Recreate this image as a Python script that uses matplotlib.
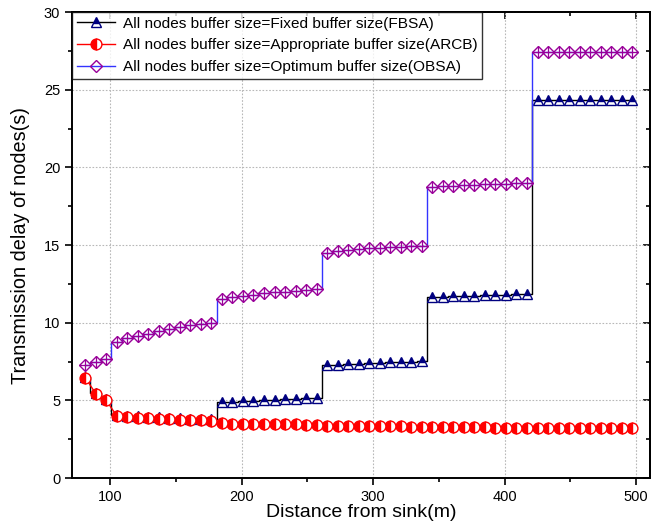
import matplotlib
matplotlib.use("Agg")
import matplotlib.pyplot as plt
from matplotlib.ticker import MultipleLocator

plt.rcParams['font.family'] = ['Liberation Sans', 'DejaVu Sans']

# Distance of each sampled node from the sink (m)
distance = [81, 89, 97,
            105, 113, 121, 129, 137, 145, 153, 161, 169, 177,
            185, 193, 201, 209, 217, 225, 233, 241, 249, 257,
            265, 273, 281, 289, 297, 305, 313, 321, 329, 337,
            345, 353, 361, 369, 377, 385, 393, 401, 409, 417,
            425, 433, 441, 449, 457, 465, 473, 481, 489, 497]

# Transmission delay (s) for each buffer allocation scheme
delay_fbsa = [6.52, 5.50, 5.06,
              4.08, 4.02, 3.97, 3.93, 3.90, 3.87, 3.84, 3.82, 3.80, 3.78,
              4.88, 4.92, 4.95, 4.98, 5.00, 5.03, 5.06, 5.09, 5.12, 5.15,
              7.25, 7.28, 7.32, 7.35, 7.38, 7.41, 7.44, 7.47, 7.50, 7.55,
              11.65, 11.68, 11.70, 11.72, 11.74, 11.76, 11.78, 11.80, 11.82, 11.84,
              24.35, 24.35, 24.35, 24.35, 24.35, 24.35, 24.35, 24.35, 24.35, 24.35]

delay_arcb = [6.47, 5.44, 5.01,
              4.00, 3.94, 3.89, 3.85, 3.82, 3.79, 3.76, 3.74, 3.72, 3.70,
              3.52, 3.50, 3.49, 3.48, 3.47, 3.46, 3.46, 3.45, 3.44, 3.43,
              3.36, 3.35, 3.34, 3.34, 3.33, 3.33, 3.32, 3.32, 3.31, 3.31,
              3.28, 3.28, 3.27, 3.27, 3.26, 3.26, 3.25, 3.25, 3.25, 3.24,
              3.22, 3.22, 3.21, 3.21, 3.21, 3.20, 3.20, 3.20, 3.19, 3.19]

delay_obsa = [7.25, 7.45, 7.65,
              8.78, 9.00, 9.14, 9.30, 9.45, 9.60, 9.72, 9.82, 9.90, 9.96,
              11.53, 11.63, 11.74, 11.81, 11.89, 11.95, 12.00, 12.06, 12.13, 12.17,
              14.50, 14.62, 14.70, 14.75, 14.80, 14.84, 14.87, 14.90, 14.93, 14.97,
              18.75, 18.80, 18.82, 18.85, 18.87, 18.90, 18.92, 18.95, 18.97, 19.00,
              27.40, 27.40, 27.40, 27.40, 27.40, 27.40, 27.40, 27.40, 27.40, 27.40]

labels = ["All nodes buffer size=Fixed buffer size(FBSA)",
          "All nodes buffer size=Appropriate buffer size(ARCB)",
          "All nodes buffer size=Optimum buffer size(OBSA)"]

fig = plt.figure(figsize=(6.62, 5.25), dpi=100)
ax = fig.add_axes([0.1088, 0.0895, 0.8730, 0.8875])

navy = '#000080'
purple = '#990099'

h_fbsa, = ax.plot(distance, delay_fbsa, color='black', lw=1.0, drawstyle='steps-mid',
                  marker='^', markersize=7.6, fillstyle='top',
                  markerfacecolor=navy, markerfacecoloralt='white',
                  markeredgecolor=navy, markeredgewidth=1.0, zorder=3)

h_obsa, = ax.plot(distance, delay_obsa, color='#3333ff', lw=1.0, drawstyle='steps-mid',
                  marker='D', markersize=6.4, markerfacecolor='none',
                  markeredgecolor=purple, markeredgewidth=1.0, zorder=3)
ax.plot(distance, delay_obsa, linestyle='none', marker='+', markersize=8.5,
        markeredgecolor=purple, markeredgewidth=0.9, zorder=3.1)

h_arcb, = ax.plot(distance, delay_arcb, color='red', lw=1.0,
                  marker='o', markersize=7.8, fillstyle='left',
                  markerfacecolor='red', markerfacecoloralt='white',
                  markeredgecolor='red', markeredgewidth=1.0, zorder=4)

ax.set_xlim(71, 510.5)
ax.set_ylim(0, 30)
ax.xaxis.set_major_locator(MultipleLocator(100))
ax.xaxis.set_minor_locator(MultipleLocator(50))
ax.yaxis.set_major_locator(MultipleLocator(5))
ax.yaxis.set_minor_locator(MultipleLocator(2.5))

ax.grid(True, which='major', color='#b8b8b8', linestyle=(0, (1.5, 1.5)), linewidth=0.8)
ax.set_axisbelow(True)

for side in ['left', 'bottom', 'right', 'top']:
    ax.spines[side].set_linewidth(1.4)

ax.tick_params(which='both', direction='out', labelsize=10.5, width=1.2,
               top=False, right=False)
ax.tick_params(which='major', length=5)
ax.tick_params(which='minor', length=3)

# Mirrored inward ticks on top and right
sec_x = ax.secondary_xaxis('top')
sec_x.xaxis.set_major_locator(MultipleLocator(100))
sec_x.xaxis.set_minor_locator(MultipleLocator(50))
sec_x.tick_params(which='both', direction='in', labeltop=False, width=1.2)
sec_x.tick_params(which='major', length=5)
sec_x.tick_params(which='minor', length=3)
sec_x.spines['top'].set_linewidth(1.4)
sec_y = ax.secondary_yaxis('right')
sec_y.yaxis.set_major_locator(MultipleLocator(5))
sec_y.yaxis.set_minor_locator(MultipleLocator(2.5))
sec_y.tick_params(which='both', direction='in', labelright=False, width=1.2)
sec_y.tick_params(which='major', length=5)
sec_y.tick_params(which='minor', length=3)
sec_y.spines['right'].set_linewidth(1.4)

ax.set_xlabel("Distance from sink(m)", fontsize=14, labelpad=0)
ax.set_ylabel("Transmission delay of nodes(s)", fontsize=14.3, labelpad=10)

leg = ax.legend([h_fbsa, h_arcb, h_obsa], labels, loc='upper left',
                bbox_to_anchor=(0, 1), borderaxespad=0, fontsize=11.1,
                frameon=True, fancybox=False, edgecolor='black',
                handlelength=2.5, handletextpad=0.5, borderpad=0.3,
                labelspacing=0.5)
leg.get_frame().set_linewidth(1.0)
leg.set_zorder(10)

fig.savefig("out.png", dpi=100)
